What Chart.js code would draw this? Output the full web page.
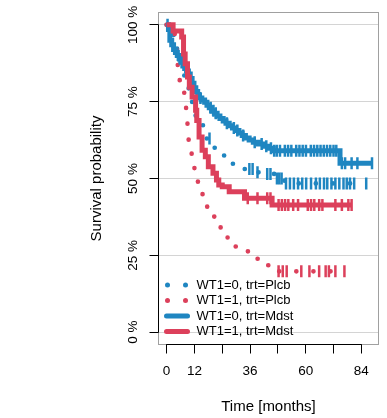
<!DOCTYPE html>
<html>
<head>
<meta charset="utf-8">
<script src="https://cdn.jsdelivr.net/npm/chart.js@4/dist/chart.umd.min.js"></script>
<style>
  html, body { margin: 0; padding: 0; background: #fff; }
</style>
</head>
<body>
<canvas id="chart" width="387" height="418"></canvas>
<script>
const blue = '#1f86c1';
const red = '#dc405b';
const family = '"Liberation Sans", Arial, Helvetica, sans-serif';

const xTicks = [0, 12, 24, 36, 48, 60, 72, 84];
const xLabels = [0, 12, 36, 60, 84];
const yTicks = [0, 0.25, 0.5, 0.75, 1];

const groupNames = ['WT1=0, trt=Plcb', 'WT1=1, trt=Plcb', 'WT1=0, trt=Mdst', 'WT1=1, trt=Mdst'];

// WT1=0, trt=Plcb
const plcb0Time = [0, 1.5, 3, 4.5, 6, 7.2, 8, 9.5, 11, 12.5, 14, 15.8, 20, 22.7, 26.5, 31, 38, 43, 47, 50.8];
const plcb0Surv = [1, 0.97, 0.94, 0.9, 0.86, 0.835, 0.816, 0.78, 0.74, 0.7, 0.673, 0.63, 0.6, 0.575, 0.548, 0.531, 0.52, 0.515, 0.5, 0.484];
const plcb0Cens = [18.5, 35.7, 37.1, 39.2, 43.4, 44.8, 47.6, 48.6, 49.6, 51.5, 53.2, 54.9, 56.7, 58.5, 60.2, 62.3, 64.4, 66.1,
  67.9, 69.3, 71.1, 72.8, 74.5, 76.3, 77.7, 79.1, 80.9, 86.1];

// WT1=1, trt=Plcb
const plcb1Time = [0, 3.5, 4.2, 4.8, 6.8, 7.6, 8.4, 9, 9.5, 10.8, 12, 13.5, 14.2, 15.5, 17.5, 21.3, 23.3, 26.3, 31, 35.4, 39.9, 44.1];
const plcb1Surv = [1, 0.96, 0.87, 0.82, 0.78, 0.76, 0.71, 0.66, 0.61, 0.565, 0.52, 0.48, 0.457, 0.414, 0.376, 0.35, 0.31, 0.279, 0.263, 0.239, 0.218, 0.198];
const plcb1Cens = [48.3, 50.1, 51.8, 58.1, 61.6, 65.8, 68.6, 70, 72.8, 76.7];

// WT1=0, trt=Mdst
const mdst0Time = [0, 0.8, 1.4, 2.2, 3, 3.8, 4.6, 5.4, 6.2, 7, 7.8, 8.6, 9.4, 10.2, 11, 11.8, 12.6, 13.4, 14.2, 15.2, 16.4,
  17.4, 18.4, 19.4, 20.6, 21.8, 23, 24.4, 25.6, 27, 28.4, 29.8, 31.2, 32.6, 34, 35.6, 37.4, 39.6, 42, 44.2, 46, 74.8];
const mdst0Surv = [1, 0.985, 0.95, 0.935, 0.92, 0.91, 0.9, 0.89, 0.878, 0.866, 0.858, 0.85, 0.84, 0.825, 0.81, 0.795, 0.783,
  0.77, 0.762, 0.755, 0.748, 0.738, 0.73, 0.72, 0.712, 0.703, 0.695, 0.687, 0.68, 0.672, 0.664, 0.656, 0.648, 0.64, 0.632,
  0.625, 0.618, 0.612, 0.605, 0.598, 0.59, 0.55];
const mdst0Cens = [0.4, 5, 9, 14.6, 19, 20.2, 21.2, 26, 29, 30.5, 33, 38, 41, 43, 45, 46.4, 47.5, 48.9, 51, 52.4, 53.8, 55.9,
  57.3, 58.7, 60.1, 62.2, 63.6, 65, 66.4, 67.8, 69.2, 70.6, 72, 73.2, 75.6, 77, 79.8, 82.3, 88.6];

// WT1=1, trt=Mdst
const mdst1Time = [0, 2.8, 6.5, 7.3, 8, 9, 9.8, 11, 12.5, 13, 14, 15.3, 16.7, 18, 20, 21.5, 22.5, 24, 27, 33.6, 45.5];
const mdst1Surv = [1, 0.98, 0.96, 0.905, 0.873, 0.83, 0.797, 0.765, 0.722, 0.689, 0.635, 0.592, 0.571, 0.538, 0.517, 0.495,
  0.479, 0.473, 0.457, 0.436, 0.414];
const mdst1Cens = [35, 39.2, 43.4, 44.8, 48.3, 49.7, 51.1, 52.5, 54.6, 56.7, 60.9, 62.3, 63.7, 65.8, 67.2, 72.8, 75.6, 78.4, 79.8];

// step curve points plus censoring marks sitting on the curve
function kmPoints(times, surv, cens) {
    const pts = times.map((t, i) => ({ x: t, y: surv[i], cens: false }));
    cens.forEach(c => {
        let s = surv[0];
        times.forEach((t, i) => { if (t <= c) s = surv[i]; });
        pts.push({ x: c, y: s, cens: true });
    });
    return pts.sort((a, b) => a.x - b.x);
}

function kmDataset(label, color, dotted, order, times, surv, cens) {
    return {
        label: label,
        data: kmPoints(times, surv, cens),
        stepped: 'before',
        borderColor: color,
        backgroundColor: color,
        borderWidth: dotted ? 4.6 : 5,
        borderDash: dotted ? [0.1, 17] : [],
        borderCapStyle: dotted ? 'round' : 'butt',
        borderJoinStyle: 'miter',
        pointStyle: 'line',
        pointRotation: 90,
        pointRadius: ctx => (ctx.raw && ctx.raw.cens ? 6 : 0),
        pointBorderWidth: 2.5,
        pointBorderColor: color,
        order: order,
        fill: false
    };
}

const framePlugin = {
    id: 'frame',
    beforeDatasetsDraw(chart) {
        const { ctx, chartArea: a, scales: { x, y } } = chart;
        ctx.save();
        ctx.lineWidth = 1;
        ctx.strokeStyle = '#a0a0a0';
        ctx.strokeRect(a.left, a.top, a.right - a.left, a.bottom - a.top);
        ctx.strokeStyle = '#000';
        ctx.beginPath();
        ctx.moveTo(x.getPixelForValue(xTicks[0]) - 0.5, a.bottom);
        ctx.lineTo(x.getPixelForValue(xTicks[xTicks.length - 1]) + 0.5, a.bottom);
        ctx.moveTo(a.left, y.getPixelForValue(yTicks[0]) + 0.5);
        ctx.lineTo(a.left, y.getPixelForValue(yTicks[yTicks.length - 1]) - 0.5);
        ctx.stroke();
        ctx.restore();
    }
};

// legend without a box, bottom left inside the plot
const legendPlugin = {
    id: 'kmLegend',
    afterDatasetsDraw(chart) {
        const ctx = chart.ctx;
        const a = chart.chartArea;
        const rowH = 15.5;
        const x0 = a.left + 8;
        const textX = a.left + 38;
        ctx.save();
        ctx.font = '13px ' + family;
        ctx.textBaseline = 'middle';
        ctx.fillStyle = '#000';
        chart.data.datasets.forEach((ds, i) => {
            const yy = a.bottom - 13 - (3 - i) * rowH;
            if (ds.borderDash.length) {
                ctx.fillStyle = ds.borderColor;
                [x0 + 1, x0 + 19].forEach(px => {
                    ctx.beginPath();
                    ctx.arc(px, yy, 2.5, 0, Math.PI * 2);
                    ctx.fill();
                });
            } else {
                ctx.strokeStyle = ds.borderColor;
                ctx.lineWidth = 5;
                ctx.lineCap = 'round';
                ctx.beginPath();
                ctx.moveTo(x0, yy);
                ctx.lineTo(x0 + 21, yy);
                ctx.stroke();
            }
            ctx.fillStyle = '#000';
            ctx.fillText(ds.label, textX, yy);
        });
        ctx.restore();
    }
};

new Chart(document.getElementById('chart'), {
    type: 'line',
    data: {
        datasets: [
            kmDataset(groupNames[0], blue, true, 4, plcb0Time, plcb0Surv, plcb0Cens),
            kmDataset(groupNames[1], red, true, 3, plcb1Time, plcb1Surv, plcb1Cens),
            kmDataset(groupNames[2], blue, false, 2, mdst0Time, mdst0Surv, mdst0Cens),
            kmDataset(groupNames[3], red, false, 1, mdst1Time, mdst1Surv, mdst1Cens)
        ]
    },
    options: {
        responsive: false,
        devicePixelRatio: 1,
        animation: false,
        events: [],
        layout: { padding: { top: 12.5, right: 2.5, left: 0, bottom: 0 } },
        plugins: {
            legend: { display: false },
            tooltip: { enabled: false }
        },
        scales: {
            x: {
                type: 'linear',
                min: -3.5,
                max: 91.4,
                afterBuildTicks: s => { s.ticks = xTicks.map(v => ({ value: v })); },
                afterFit: s => { s.height = 73.5; },
                border: { display: false },
                grid: { drawOnChartArea: false, color: '#000', tickColor: '#000', tickLength: 9, lineWidth: 1 },
                ticks: {
                    autoSkip: false,
                    maxRotation: 0,
                    padding: 10,
                    color: '#000',
                    font: { family: family, size: 13.5 },
                    callback: v => (xLabels.includes(v) ? String(v) : '')
                },
                title: {
                    display: true,
                    text: 'Time [months]',
                    color: '#000',
                    font: { family: family, size: 15 },
                    padding: { top: 0, bottom: 2 }
                }
            },
            y: {
                type: 'linear',
                min: -0.04,
                max: 1.04,
                afterBuildTicks: s => { s.ticks = yTicks.map(v => ({ value: v })); },
                afterFit: s => { s.width = 158.5; },
                border: { display: false },
                grid: { color: '#d4d4d4', tickColor: '#000', tickLength: 9, lineWidth: 1 },
                ticks: {
                    minRotation: 90,
                    maxRotation: 90,
                    crossAlign: 'center',
                    padding: -2.5,
                    color: '#000',
                    font: { family: family, size: 13.5 },
                    callback: v => Math.round(v * 100) + ' %'
                },
                title: {
                    display: true,
                    text: 'Survival probability',
                    color: '#000',
                    font: { family: family, size: 15 },
                    padding: { top: 88, bottom: 0 }
                }
            }
        }
    },
    plugins: [framePlugin, legendPlugin]
});
</script>
</body>
</html>
